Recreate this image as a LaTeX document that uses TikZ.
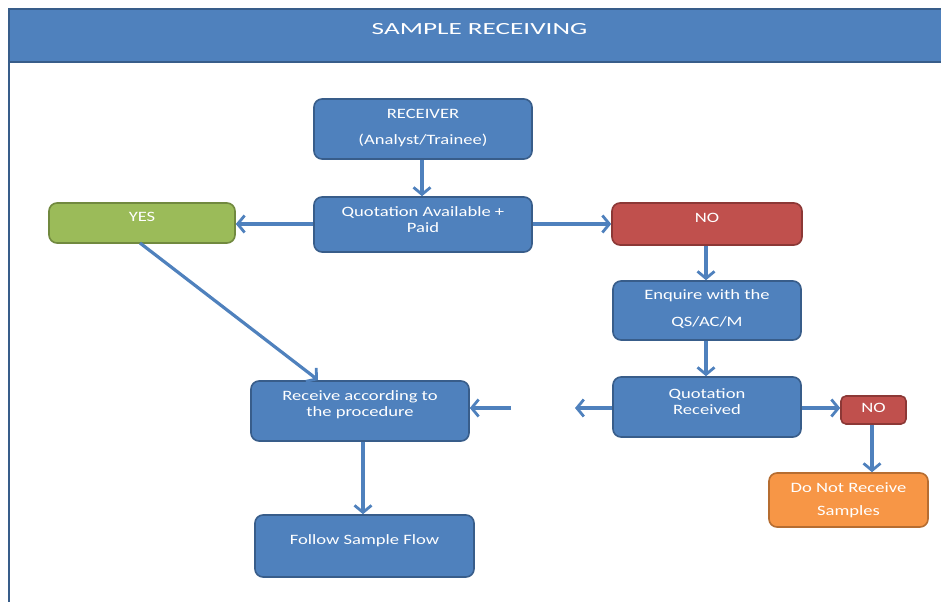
\documentclass[tikz,border=0pt]{standalone}
\usepackage{fontspec}
\setmainfont{Carlito}[FakeStretch=1.3]
\newfontfamily\titlefont{Carlito}[FakeStretch=1.6]
\usetikzlibrary{arrows.meta,calc}
\definecolor{bfill}{HTML}{4F81BD}
\definecolor{bdraw}{HTML}{385D8A}
\definecolor{gfill}{HTML}{9BBB59}
\definecolor{gdraw}{HTML}{71893F}
\definecolor{rfill}{HTML}{C0504D}
\definecolor{rdraw}{HTML}{8C3836}
\definecolor{ofill}{HTML}{F79646}
\definecolor{odraw}{HTML}{B66D31}
\tikzset{
  box/.style={draw=bdraw, fill=bfill, line width=1.6pt, rounded corners=8pt, inner sep=0pt},
  gbox/.style={box, draw=gdraw, fill=gfill},
  rbox/.style={box, draw=rdraw, fill=rfill},
  obox/.style={box, draw=odraw, fill=ofill},
  txt/.style={text=white, font=\fontsize{14.3}{16}\selectfont, inner sep=0pt},
  flow/.style={draw=bfill, line width=3.2pt, -{Straight Barb[length=7pt,width=17pt,line width=2.8pt]}},
}
\begin{document}
\begin{tikzpicture}[x=1pt,y=-1pt]
\useasboundingbox (0,0) rectangle (941,602);
% header
\fill[bfill] (8,9) rectangle (945,62);
\draw[bdraw, line width=1.2pt] (8,9) -- (945,9);
\draw[bdraw, line width=1.5pt] (8,62) -- (945,62);
\draw[bdraw, line width=2pt] (9,9) -- (9,602);
\node[text=white, inner sep=0pt, font=\titlefont\fontsize{17}{19}\selectfont] (title) at (479.5,29) {SAMPLE RECEIVING};
% boxes
\node[box, minimum width=218pt, minimum height=60pt] (recv) at (423,129) {};
\node[txt] (recvt1) at (423,114) {RECEIVER};
\node[txt] (recvt2) at (423,140) {(Analyst/Trainee)};
\node[box, minimum width=218pt, minimum height=55pt] (quot) at (423,224.5) {};
\node[txt] (quott1) at (423,212.5) {Quotation Available +};
\node[txt] (quott2) at (423,228) {Paid};
\node[gbox, minimum width=186pt, minimum height=40pt] (yes) at (142,223) {};
\node[txt] (yest) at (142,217) {YES};
\node[rbox, minimum width=190pt, minimum height=42pt] (no1) at (707,224) {};
\node[txt] (no1t) at (707,218) {NO};
\node[box, minimum width=188pt, minimum height=59pt] (enq) at (707,310.5) {};
\node[txt] (enqt1) at (707,296) {Enquire with the};
\node[txt] (enqt2) at (707,322) {QS/AC/M};
\node[box, minimum width=188pt, minimum height=60pt] (qrec) at (707,407) {};
\node[txt] (qrect1) at (707,394) {Quotation};
\node[txt] (qrect2) at (707,410) {Received};
\node[box, minimum width=218pt, minimum height=60pt] (rcv) at (360,411) {};
\node[txt] (rcvt1) at (360,397) {Receive according to};
\node[txt] (rcvt2) at (360,413) {the procedure};
\node[rbox, minimum width=65pt, minimum height=28pt, rounded corners=5pt] (nosm) at (873.5,410) {};
\node[txt] (nosmt) at (873.5,408) {NO};
\node[obox, minimum width=159pt, minimum height=54pt] (dnr) at (848.5,500) {};
\node[txt] (dnrt1) at (848.5,488) {Do Not Receive};
\node[txt] (dnrt2) at (848.5,512) {Samples};
\node[box, minimum width=219pt, minimum height=62pt] (follow) at (364.5,546) {};
\node[txt] (followt) at (364.5,541) {Follow Sample Flow};
% coordinates
\coordinate (yesstart) at (140,243);
\coordinate (yesend) at (318,380);
\coordinate (gapR) at (575,408);
\coordinate (gapL) at (511,408);
% connectors
\draw[flow] (recv.south -| 422,0) -- (quot.north -| 422,0);
\draw[flow] (quot.west |- 0,224) -- (yes.east |- 0,224);
\draw[flow] (quot.east |- 0,224) -- (no1.west |- 0,224);
\draw[flow] (no1.south -| 706,0) -- (enq.north -| 706,0);
\draw[flow] (enq.south -| 706,0) -- (qrec.north -| 706,0);
\draw[flow] (yesstart) -- (yesend);
\draw[flow] (qrec.west |- gapR) -- (gapR);
\draw[flow] (gapL) -- (rcv.east |- gapL);
\draw[flow] (qrec.east |- 0,408) -- (nosm.west |- 0,408);
\draw[flow] (nosm.south -| 872,0) -- (dnr.north -| 872,0);
\draw[flow] (rcv.south -| 363,0) -- (follow.north -| 363,0);
\end{tikzpicture}
\end{document}
